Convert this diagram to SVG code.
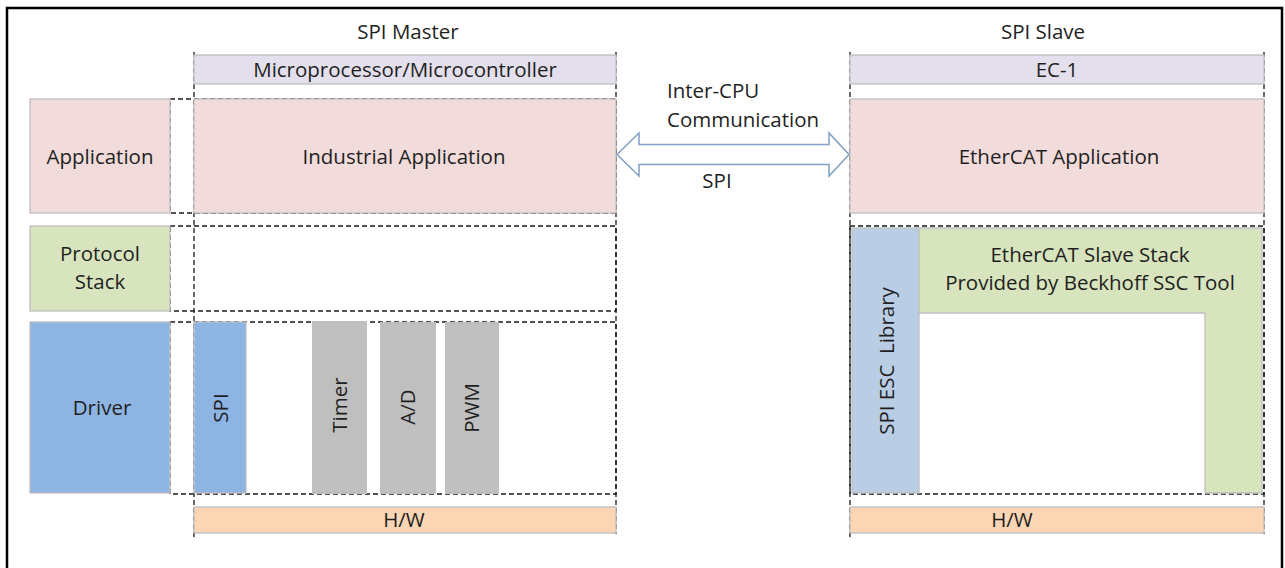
<svg xmlns="http://www.w3.org/2000/svg" width="1285" height="568" viewBox="0 0 1285 568">
<style>
text{font-family:"Open Sans","Liberation Sans",sans-serif;font-size:20.5px;fill:#1f1f1f;text-anchor:middle}
.b{stroke:#bfbfbf;stroke-width:1.3}
.d{fill:none;stroke:#1a1a1a;stroke-width:1.3;stroke-dasharray:5 3}
.lav{fill:#e4dfec}.pink{fill:#f2dcdb}.grn{fill:#d7e4bd}.blu{fill:#8eb4e3}.lib{fill:#b9cde5}.gry{fill:#bfbfbf}.org{fill:#fcd5b5}
</style>
<rect x="0" y="0" width="1285" height="568" fill="#fff"/>
<rect x="7" y="8" width="1275" height="570" fill="#fff" stroke="#000" stroke-width="2.5"/>

<g id="guides">
<line class="d" x1="194" y1="52" x2="194" y2="538"/>
<line class="d" x1="616" y1="52" x2="616" y2="534"/>
<rect class="d" x="170" y="99" width="446" height="114"/>
<rect class="d" x="170" y="226" width="446" height="85"/>
<rect class="d" x="170" y="322" width="446" height="172"/>
<line class="d" x1="850" y1="52" x2="850" y2="538"/>
<line class="d" x1="1264" y1="52" x2="1264" y2="534"/>
<rect class="d" x="850" y="226" width="414" height="268"/>
</g>

<g id="master-title"><text x="408" y="39">SPI Master</text></g>
<g id="slave-title"><text x="1043" y="39">SPI Slave</text></g>

<g id="micro"><rect class="b lav" x="194" y="55" width="422" height="29"/><text x="405" y="77">Microprocessor/Microcontroller</text></g>
<g id="application"><rect class="b pink" x="30" y="99" width="140" height="114"/><text x="100" y="164">Application</text></g>
<g id="industrial"><rect class="b pink" x="194" y="99" width="422" height="114"/><text x="404" y="164">Industrial Application</text></g>
<g id="protocol"><rect class="b grn" x="30" y="226" width="140" height="85"/><text x="100" y="261">Protocol</text><text x="100" y="289">Stack</text></g>
<g id="driver"><rect class="b blu" x="30" y="322" width="140" height="171"/><text x="102" y="415">Driver</text></g>
<g id="spi-drv"><rect class="b blu" x="194" y="322" width="52" height="171"/><text transform="translate(228,408) rotate(-90)">SPI</text></g>
<g id="timer"><rect class="gry" x="312" y="321" width="55" height="173"/><text transform="translate(347,405) rotate(-90)">Timer</text></g>
<g id="ad"><rect class="gry" x="380" y="322" width="56" height="172"/><text transform="translate(415,407) rotate(-90)">A/D</text></g>
<g id="pwm"><rect class="gry" x="445" y="322" width="54" height="172"/><text transform="translate(479,408) rotate(-90)">PWM</text></g>
<g id="hw-master"><rect class="b org" x="194" y="507" width="422" height="26"/><text x="404" y="527">H/W</text></g>

<g id="ec1"><rect class="b lav" x="850" y="55" width="414" height="29"/><text x="1057" y="77">EC-1</text></g>
<g id="ethercat-app"><rect class="b pink" x="850" y="99" width="414" height="114"/><text x="1059" y="164">EtherCAT Application</text></g>
<g id="esc-lib"><rect class="b lib" x="852" y="228" width="67" height="265"/><text transform="translate(894,361) rotate(-90)" style="white-space:pre">SPI ESC  Library</text></g>
<g id="slave-stack"><path class="b grn" d="M919,228 H1262 V493 H1205 V313 H919 Z"/><text x="1090" y="262">EtherCAT Slave Stack</text><text x="1090" y="290">Provided by Beckhoff SSC Tool</text></g>
<g id="hw-slave"><rect class="b org" x="850" y="507" width="414" height="26"/><text x="1012" y="527">H/W</text></g>

<g id="connectors">
<path d="M617,154.5 L639,133 L639,144.5 L829,144.5 L829,133 L849,154.5 L829,176 L829,164.5 L639,164.5 L639,176 Z" fill="#fff" stroke="#7f9fc6" stroke-width="1.5" stroke-linejoin="miter"/>
<text x="667" y="98" style="text-anchor:start">Inter-CPU</text>
<text x="667" y="127" style="text-anchor:start">Communication</text>
<text x="717" y="188">SPI</text>
</g>
</svg>
